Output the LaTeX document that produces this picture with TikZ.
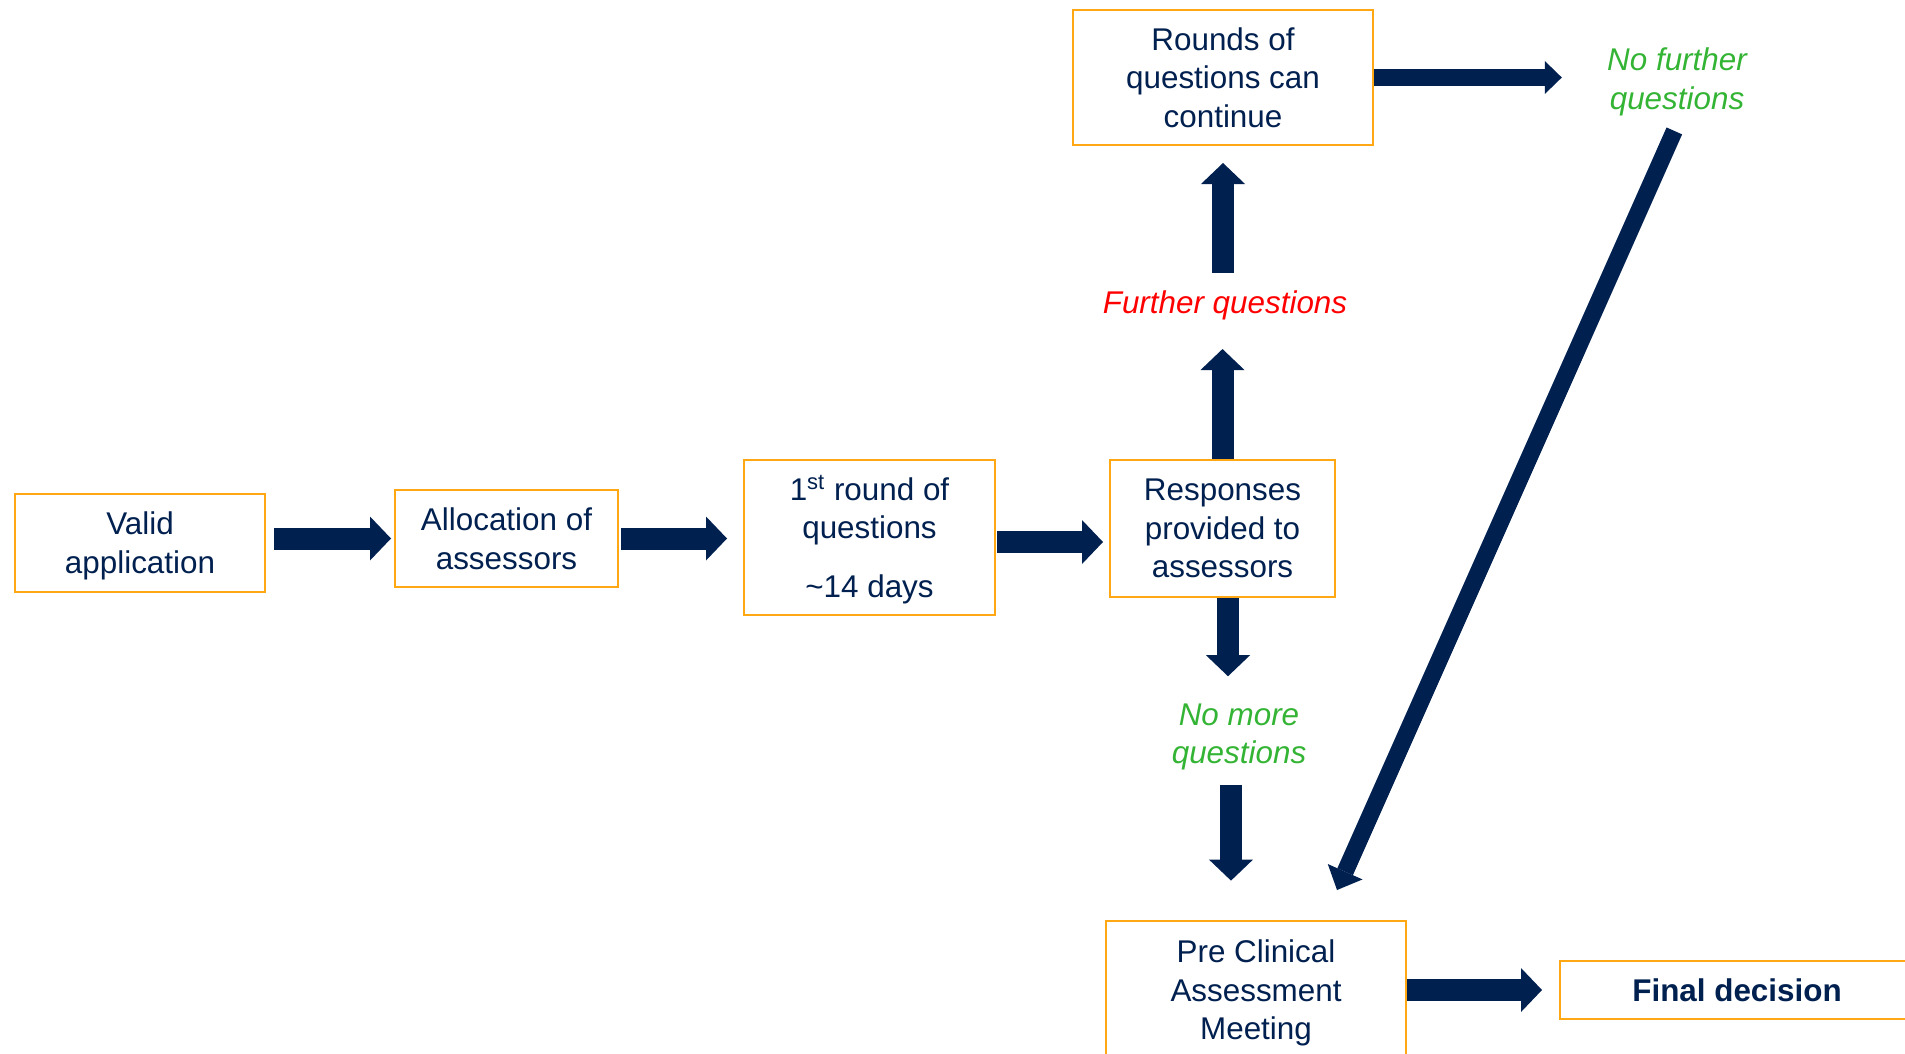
\documentclass[tikz,border=0pt]{standalone}
\usepackage{fontspec}
\setmainfont{Liberation Sans}
\usetikzlibrary{arrows.meta}
\definecolor{navy}{RGB}{0,32,80}
\definecolor{boxorange}{RGB}{255,168,20}
\definecolor{qgreen}{RGB}{52,180,52}
\definecolor{qred}{RGB}{255,0,0}
\newcommand\lowerstrut{\rule{0pt}{\dimexpr\fontcharht\font`l+3.6pt\relax}}
\begin{document}
\begin{tikzpicture}[x=0.5pt,y=-0.5pt,
  box/.style={draw=boxorange, line width=1pt, fill=white, text=navy, align=center, inner sep=0pt, font=\fontsize{15.7}{19.3}\selectfont},
  lbl/.style={inner sep=0pt, align=center, font=\fontsize{15.7}{19.3}\selectfont\itshape},
  bigarrow/.style={draw=navy, line width=11pt, -{Triangle[length=10.5pt 0 0, width=22pt 0 0, line width=0pt 0 0]}},
  smallarrow/.style={draw=navy, line width=8.5pt, -{Triangle[length=8.5pt 0 0, width=16.5pt 0 0, line width=0pt 0 0]}},
  diagarrow/.style={draw=navy, line width=8.5pt, -{Triangle[length=10pt 0 0, width=19pt 0 0, line width=0pt 0 0]}}
]
\useasboundingbox (0,0) rectangle (1905,1054);
\clip (0,0) rectangle (1905,1054);

\node[box, minimum width=125pt, minimum height=49pt] (valid) at (140,543) {\lowerstrut Valid\\application};
\node[box, minimum width=111.5pt, minimum height=48.5pt] (alloc) at (506.5,538.5) {Allocation of\\assessors};
\node[box, minimum width=125.5pt, minimum height=77.5pt] (first) at (869.5,537.5) {\lowerstrut 1\textsuperscript{st} round of\\questions\\[10pt]\textasciitilde14 days};
\node[box, minimum width=112.5pt, minimum height=68.5pt] (resp) at (1222.5,528.5) {Responses\\provided to\\assessors};
\node[box, minimum width=150pt, minimum height=67.5pt] (rounds) at (1223,77.5) {Rounds of\\questions can\\continue};
\node[box, minimum width=150pt, minimum height=69pt] (pre) at (1256,990) {\lowerstrut Pre Clinical\\Assessment\\Meeting};
\node[box, minimum width=177pt, minimum height=29pt, font=\fontsize{15.7}{19.3}\selectfont\bfseries] (final) at (1737,990) {Final decision};

\node[lbl, text=qred] (further) at (1225,305.6) {Further questions};
\node[lbl, text=qgreen] (nofurther) at (1677,81.6) {No further\\questions};
\node[lbl, text=qgreen] (nomore) at (1239,737) {No more\\questions};

\draw[bigarrow, shorten <=4pt, shorten >=1.5pt] (valid.east |- alloc.west) -- (alloc.west);
\draw[bigarrow, shorten <=1pt, shorten >=8pt] (alloc.east) -- (alloc.east -| first.west);
\draw[bigarrow, shorten <=0.5pt, shorten >=3pt] ([yshift=-2.25pt]first.east) -- ([yshift=-2.25pt]first.east -| resp.west);
\draw[bigarrow, shorten >=14.2pt] (resp.north) -- (resp.north |- further.south);
\draw[bigarrow, shorten <=8.7pt, shorten >=8.5pt] (further.north -| rounds.south) -- (rounds.south);
\draw[smallarrow, shorten >=22.5pt] (rounds.east) -- (rounds.east -| nofurther.west);
\draw[diagarrow, shorten <=8.2pt] ([xshift=2pt]nofurther.south) -- ([xshift=40.5pt,yshift=15pt]pre.north);
\draw[bigarrow, shorten >=13.5pt] ([xshift=2.75pt]resp.south) -- ([xshift=2.75pt]resp.south |- nomore.north);
\draw[bigarrow, shorten <=7pt, shorten >=19.7pt] ([xshift=-4pt]nomore.south) -- ([xshift=-4pt]nomore.south |- pre.north);
\draw[bigarrow, shorten >=8.5pt] (pre.east) -- (final.west);
\end{tikzpicture}
\end{document}
